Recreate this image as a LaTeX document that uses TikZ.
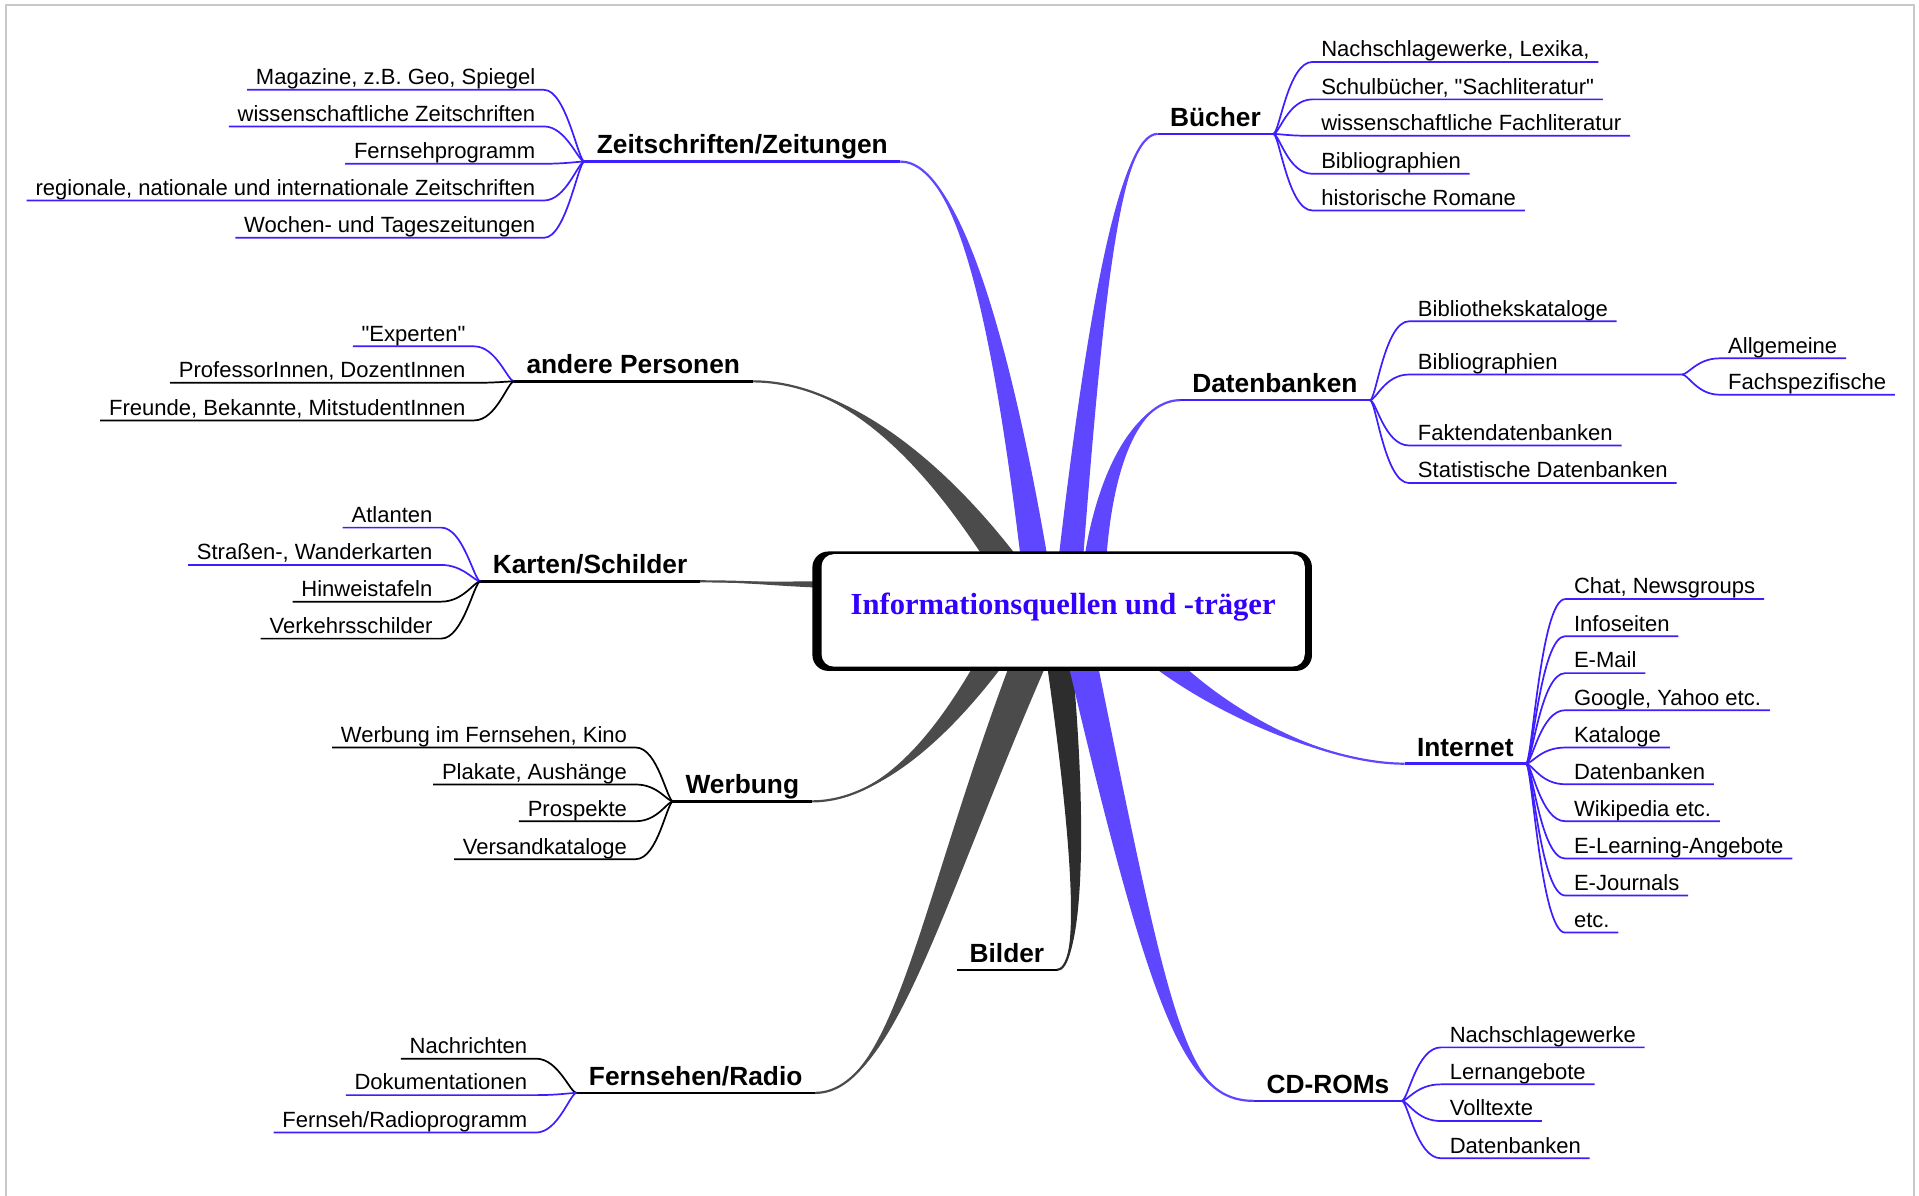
\documentclass[tikz,border=0pt]{standalone}
\usepackage{fontspec}
\setmainfont{Liberation Sans}
\newfontfamily\mmsans{Liberation Sans}
\newfontfamily\titlefont{Liberation Serif}
\usetikzlibrary{calc}
\definecolor{lineblue}{RGB}{60,30,255}
\definecolor{branchblue}{RGB}{95,70,255}
\definecolor{branchgray}{RGB}{75,75,75}
\definecolor{branchdark}{RGB}{45,45,45}
\definecolor{titleblue}{RGB}{51,0,255}
\definecolor{framegray}{RGB}{200,200,200}
\pgfdeclarelayer{branches}
\pgfdeclarelayer{boxbg}
\pgfsetlayers{branches,boxbg,main}
% #1 colour, #2 thin start, #3 c1, #4 c2, #5 end at box, #6 half width
\newcommand\mmbranch[6]{%
  \fill[#1] (#2) .. controls (#3) and ($(#4)+(-#6*0.6,0)$) .. ($(#5)+(-#6,0)$)
     -- ($(#5)+(#6,0)$) .. controls ($(#4)+(#6*0.6,0)$) and (#3) .. (#2) -- cycle;
  \draw[#1, line width=1.8pt] (#2) .. controls (#3) and (#4) .. (#5);
}
\begin{document}
\begin{tikzpicture}[x=1pt,y=-1pt,
  mmsub/.style={font=\mmsans\fontsize{18}{21}\selectfont, inner xsep=7pt, inner ysep=4pt, text height=13pt, text depth=0pt},
  mmtopic/.style={font=\mmsans\bfseries\fontsize{21.5}{24}\selectfont, inner xsep=10pt, inner ysep=6pt, text height=15.5pt, text depth=0pt},
  mmline/.style={line width=1.4pt},
  mmtline/.style={line width=2pt}]
\useasboundingbox (0,0) rectangle (1568,977);
\draw[framegray, line width=1.6pt] (4.9,977) -- (4.9,4) -- (1564,4) -- (1564,977);

% central node
\node[fill=white, rounded corners=10pt, minimum width=394.8pt, minimum height=91.9pt, inner sep=0pt,
      text=titleblue, font=\titlefont\bfseries\fontsize{25}{28}\selectfont, text height=14pt, text depth=6.5pt]
  (root) at (868.7,498.75) {Informationsquellen und -träger};
\begin{pgfonlayer}{boxbg}
\fill[black, rounded corners=13pt] ($(root.south west)+(-7.3,3.3)$) rectangle ($(root.north east)+(5.7,-2)$);
\end{pgfonlayer}

% branch ends on the box
\coordinate (eZ) at (845,456);
\coordinate (eP) at (818,456);
\coordinate (eB) at (875,456);
\coordinate (eD) at (895,456);
\coordinate (eK) at (668,477.5);
\coordinate (eW) at (808,543);
\coordinate (eF) at (840,543);
\coordinate (eBi) at (866,543);
\coordinate (eC) at (885,543);
\coordinate (eI) at (953,543);
\coordinate (jbib) at (1374.4,306);

% topics
\node[mmtopic, anchor=south west] (zs) at (477.5,132) {Zeitschriften/Zeitungen};
\node[mmtopic, anchor=south west] (ap) at (420,311.6) {andere Personen};
\node[mmtopic, anchor=south west] (ks) at (392.5,475) {Karten/Schilder};
\node[mmtopic, anchor=south west] (wb) at (550,654.8) {Werbung};
\node[mmtopic, anchor=south west] (fr) at (471,893) {Fernsehen/Radio};
\node[mmtopic, anchor=south east] (bi) at (863.4,792.6) {Bilder};
\node[mmtopic, anchor=south east] (bu) at (1040.4,109.4) {Bücher};
\node[mmtopic, anchor=south east] (db) at (1119.4,327) {Datenbanken};
\node[mmtopic, anchor=south east] (inet) at (1246.9,624) {Internet};
\node[mmtopic, anchor=south east] (cd) at (1145.4,899.5) {CD-ROMs};

\draw[mmtline, lineblue] (zs.south west) -- (zs.south east);
\draw[mmtline, black] (ap.south west) -- (ap.south east);
\draw[mmtline, black] (ks.south west) -- (ks.south east);
\draw[mmtline, black] (wb.south west) -- (wb.south east);
\draw[mmtline, black] (fr.south west) -- (fr.south east);
\draw[mmtline, black] (bi.south west) -- (bi.south east);
\draw[mmtline, lineblue] (bu.south west) -- (bu.south east);
\draw[mmtline, lineblue] (db.south west) -- (db.south east);
\draw[mmtline, lineblue] (inet.south west) -- (inet.south east);
\draw[mmtline, lineblue] (cd.south west) -- (cd.south east);

% left groups
\foreach \nm/\yy/\cc/\txt in {z1/73.4/lineblue/{Magazine, z.B. Geo, Spiegel},
  z2/103.3/lineblue/{wissenschaftliche Zeitschriften}, z3/133.8/lineblue/{Fernsehprogramm},
  z4/163.8/lineblue/{regionale, nationale und internationale Zeitschriften},
  z5/194.3/lineblue/{Wochen- und Tageszeitungen}}{
  \node[mmsub, anchor=south east] (\nm) at (444.5,\yy) {\txt};
  \draw[mmline, draw=\cc] (\nm.south west) -- (\nm.south east) .. controls +(18,0) and +(-5,0) .. (zs.south west);
}
\foreach \nm/\yy/\cc/\txt in {p1/283/lineblue/{"Experten"},
  p2/312.8/black/{ProfessorInnen, DozentInnen}, p3/343.5/black/{Freunde, Bekannte, MitstudentInnen}}{
  \node[mmsub, anchor=south east] (\nm) at (387.5,\yy) {\txt};
  \draw[mmline, draw=\cc] (\nm.south west) -- (\nm.south east) .. controls +(18,0) and +(-5,0) .. (ap.south west);
}
\foreach \nm/\yy/\cc/\txt in {k1/431.1/lineblue/{Atlanten},
  k2/461.6/lineblue/{Straßen-, Wanderkarten}, k3/491.6/black/{Hinweistafeln}, k4/521.8/black/{Verkehrsschilder}}{
  \node[mmsub, anchor=south east] (\nm) at (360.5,\yy) {\txt};
  \draw[mmline, draw=\cc] (\nm.south west) -- (\nm.south east) .. controls +(18,0) and +(-5,0) .. (ks.south west);
}
\foreach \nm/\yy/\cc/\txt in {w1/610.8/black/{Werbung im Fernsehen, Kino},
  w2/641/black/{Plakate, Aushänge}, w3/671/black/{Prospekte}, w4/702/black/{Versandkataloge}}{
  \node[mmsub, anchor=south east] (\nm) at (519.5,\yy) {\txt};
  \draw[mmline, draw=\cc] (\nm.south west) -- (\nm.south east) .. controls +(18,0) and +(-5,0) .. (wb.south west);
}
\foreach \nm/\yy/\cc/\txt in {f1/865/black/{Nachrichten},
  f2/894.8/lineblue/{Dokumentationen}, f3/925.4/lineblue/{Fernseh/Radioprogramm}}{
  \node[mmsub, anchor=south east] (\nm) at (438,\yy) {\txt};
  \draw[mmline, draw=\cc] (\nm.south west) -- (\nm.south east) .. controls +(18,0) and +(-5,0) .. (fr.south west);
}

% right groups
\foreach \nm/\yy/\txt in {b1/50.6/{Nachschlagewerke, Lexika,}, b2/81.2/{Schulbücher, "Sachliteratur"},
  b3/111/{wissenschaftliche Fachliteratur}, b4/142/{Bibliographien}, b5/172/{historische Romane}}{
  \node[mmsub, anchor=south west] (\nm) at (1072.4,\yy) {\txt};
  \draw[mmline, lineblue] (bu.south east) .. controls +(5,0) and +(-20,0) .. (\nm.south west) -- (\nm.south east);
}
\foreach \nm/\yy/\txt in {d1/262.5/{Bibliothekskataloge}, d3/364/{Faktendatenbanken}, d4/394.7/{Statistische Datenbanken}}{
  \node[mmsub, anchor=south west] (\nm) at (1151.4,\yy) {\txt};
  \draw[mmline, lineblue] (db.south east) .. controls +(5,0) and +(-20,0) .. (\nm.south west) -- (\nm.south east);
}
\node[mmsub, anchor=south west] (d2) at (1151.4,306) {Bibliographien};
\draw[mmline, lineblue] (db.south east) .. controls +(5,0) and +(-20,0) .. (d2.south west) -- (jbib);
\foreach \nm/\yy/\txt in {a1/292.8/{Allgemeine}, a2/322.5/{Fachspezifische}}{
  \node[mmsub, anchor=south west] (\nm) at (1404.9,\yy) {\txt};
  \draw[mmline, lineblue] (jbib) .. controls +(5,0) and +(-18,0) .. (\nm.south west) -- (\nm.south east);
}
\foreach \nm/\yy/\txt in {i1/489.5/{Chat, Newsgroups}, i2/519.8/{Infoseiten}, i3/550/{E-Mail},
  i4/580.3/{Google, Yahoo etc.}, i5/610.8/{Kataloge}, i6/640.8/{Datenbanken}, i7/671/{Wikipedia etc.},
  i8/701.5/{E-Learning-Angebote}, i9/731.7/{E-Journals}, i10/762/{etc.}}{
  \node[mmsub, anchor=south west] (\nm) at (1278.9,\yy) {\txt};
  \draw[mmline, lineblue] (inet.south east) .. controls +(5,0) and +(-20,0) .. (\nm.south west) -- (\nm.south east);
}
\foreach \nm/\yy/\txt in {c1/855.8/{Nachschlagewerke}, c2/886/{Lernangebote}, c3/916/{Volltexte}, c4/946.4/{Datenbanken}}{
  \node[mmsub, anchor=south west] (\nm) at (1177.4,\yy) {\txt};
  \draw[mmline, lineblue] (cd.south east) .. controls +(5,0) and +(-20,0) .. (\nm.south west) -- (\nm.south east);
}

% main branches
\begin{pgfonlayer}{branches}
\mmbranch{branchgray}{ap.south east}{680,311.6}{750,360}{eP}{14}
\mmbranch{branchblue}{zs.south east}{785,132}{820,285}{eZ}{11}
\mmbranch{branchblue}{bu.south west}{915,109.4}{895,250}{eB}{10}
\mmbranch{branchblue}{db.south west}{935,327}{905,370}{eD}{9}
\mmbranch{branchgray}{wb.south east}{720,654.8}{770,600}{eW}{12}
\mmbranch{branchgray}{fr.south east}{730,893}{760,740}{eF}{15}
\mmbranch{branchdark}{bi.south east}{882,792.6}{884,700}{eBi}{10.5}
\mmbranch{branchblue}{cd.south west}{970,899.5}{950,840}{eC}{12}
\mmbranch{branchblue}{inet.south west}{1090,624}{1010,590}{eI}{13}
\fill[branchgray] (ks.south east) .. controls (610,475) and (630,475.5) .. ($(eK)+(0,-2.6)$)
   -- ($(eK)+(0,2.6)$) .. controls (630,478.5) and (610,476) .. (ks.south east) -- cycle;
\draw[branchgray, line width=1.8pt] (ks.south east) .. controls (610,475) and (630,477) .. (eK);
\end{pgfonlayer}
\end{tikzpicture}
\end{document}
